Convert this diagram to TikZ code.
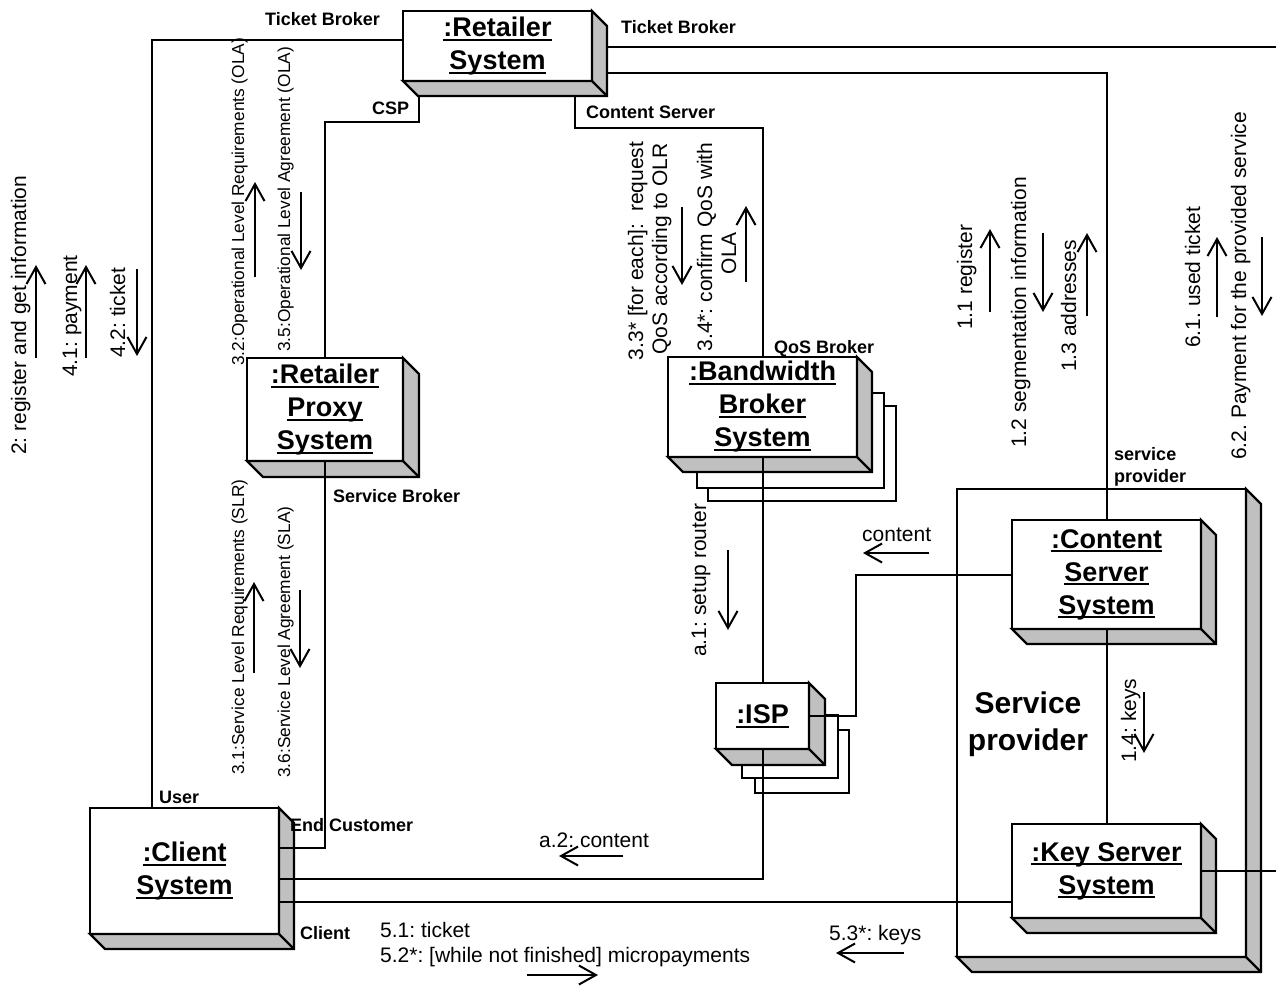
\documentclass[tikz,border=0pt]{standalone}
\usepackage{fontspec}
\setmainfont{Liberation Sans}
\usetikzlibrary{arrows.meta,calc}
\definecolor{shadegray}{RGB}{192,192,192}
\frenchspacing
\newcommand\ulin[1]{\leavevmode\setbox0\hbox{#1}\rlap{\rule[-4.3pt]{\wd0}{2pt}}\box0}
\newcommand\nodeshadow[2]{%
  \filldraw[shadowface] (#1.north east) -- ++(#2,#2) -- ($(#1.south east)+(#2,#2)$)
    -- ($(#1.south west)+(#2,#2)$) -- (#1.south west) -- (#1.south east) -- cycle;
  \draw[shadowface,fill=none] (#1.south east) -- ++(#2,#2);}
\begin{document}
\begin{tikzpicture}[x=1pt,y=-1pt,
  nbox/.style={draw, fill=white, line width=2.2pt, inner sep=0pt, outer sep=0pt, align=center,
    font=\fontsize{27}{33}\selectfont\bfseries},
  shadowface/.style={draw, fill=shadegray, line width=2.2pt, line join=miter},
  stackrect/.style={draw, fill=white, line width=2.2pt},
  conn/.style={line width=2pt},
  msg/.style={line width=2pt, -{Straight Barb[length=17pt,width=19pt]}},
  role/.style={font=\fontsize{18}{22.5}\selectfont\bfseries, inner sep=0pt, anchor=base west, align=left},
  lbl/.style={font=\fontsize{21}{24}\selectfont, inner sep=0pt, anchor=base west},
  vlbl/.style={lbl, rotate=90},
  vclbl/.style={font=\fontsize{21}{24}\selectfont, inner sep=0pt, anchor=base, rotate=90},
  svlbl/.style={font=\fontsize{17.3}{20}\selectfont, inner sep=0pt, anchor=base west, rotate=90},
]
\useasboundingbox (0,0) rectangle (1276,985);

% service provider container
\node[draw, fill=white, line width=2.2pt, inner sep=0pt, outer sep=0pt,
  minimum width=289pt, minimum height=468pt] (sp) at (1101.5,723) {};
\nodeshadow{sp}{15}
\node[font=\fontsize{30}{37}\selectfont\bfseries, align=center, inner sep=0pt, anchor=base]
  (sptitle) at (1028,750) {Service\\provider};

% stacked copies
\draw[stackrect] (708,406) rectangle (896,501);
\draw[stackrect] (697,393) rectangle (884,488);
\draw[stackrect] (755,730) rectangle (849,793);
\draw[stackrect] (742,715) rectangle (838,778);

% nodes
\node[nbox, minimum width=189pt, minimum height=70pt] (rs) at (497.5,46) {\ulin{:Retailer}\\\ulin{System}};
\nodeshadow{rs}{15}
\node[nbox, minimum width=156pt, minimum height=103pt] (rp) at (325,409.5) {\ulin{:Retailer}\\\ulin{Proxy}\\\ulin{System}};
\nodeshadow{rp}{16}
\node[nbox, minimum width=189pt, minimum height=100pt] (bb) at (762.5,407) {\ulin{:Bandwidth}\\\ulin{Broker}\\\ulin{System}};
\nodeshadow{bb}{15}
\node[nbox, minimum width=93pt, minimum height=66pt] (isp) at (762.5,716) {\ulin{:ISP}};
\nodeshadow{isp}{16}
\node[nbox, minimum width=189pt, minimum height=126pt] (cl) at (184.5,871) {\ulin{:Client}\\\ulin{System}};
\nodeshadow{cl}{15}
\node[nbox, minimum width=189pt, minimum height=109pt] (cs) at (1106.5,574.5) {\ulin{:Content}\\\ulin{Server}\\\ulin{System}};
\nodeshadow{cs}{15}
\node[nbox, minimum width=189pt, minimum height=94pt] (ks) at (1106.5,871) {\ulin{:Key Server}\\\ulin{System}};
\nodeshadow{ks}{15}

% free ends at the right border
\coordinate (rEdge1) at (1276,47);
\coordinate (rEdge2) at (1276,871);

% connectors
\draw[conn] ($(cl.north west)+(62,0)$) |- ($(rs.west)+(0,-6)$);
\draw[conn] ($(rs.east)+(15,1)$) -- (rEdge1);
\draw[conn] ($(rs.east)+(15,27)$) -| (cs.north);
\draw[conn] ($(rs.south)+(77.5,16)$) |- ($(bb.north)+(0,-229)$) -- (bb.north);
\draw[conn] ($(rs.south west)+(16,15)$) |- ($(rp.north)+(0,-236)$) -- (rp.north);
\draw[conn] (rp.south) |- ($(cl.east)+(0,-23)$);
\draw[conn] (bb.south) -- (isp.north);
\draw[conn] (isp.south) |- ($(cl.east)+(0,8)$);
\draw[conn] ($(cl.east)+(0,31)$) -- ($(ks.west)+(0,31)$);
\draw[conn] (isp.east) -- ++(47,0) |- (cs.west);
\draw[conn] (cs.south) -- (ks.north);
\draw[conn] (ks.east) -- (rEdge2);

% role labels
\node[role] (r1) at (265,25) {Ticket Broker};
\node[role] (r2) at (621,33) {Ticket Broker};
\node[role] (r3) at (372,114) {CSP};
\node[role] (r4) at (586,118) {Content Server};
\node[role] (r5) at (774,353) {QoS Broker};
\node[role] (r6) at (333,502) {Service Broker};
\node[role] (r7) at (1114,482.5) {service\\provider};
\node[role] (r8) at (159,803) {User};
\node[role] (r9) at (290,831) {End Customer};
\node[role] (r10) at (300,939) {Client};

% horizontal message labels
\node[lbl] (m51) at (380,937) {5.1: ticket};
\node[lbl] (m52) at (380,962) {5.2*: [while not finished] micropayments};
\node[lbl] (ma2) at (539,847) {a.2: content};
\node[lbl] (mct) at (862,541) {content};
\node[lbl] (m53) at (829,940) {5.3*: keys};

% rotated message labels
\node[vlbl] (m2) at (26,455) {2: register and get information};
\node[vlbl] (m41) at (77,377) {4.1: payment};
\node[vlbl] (m42) at (125,358) {4.2: ticket};
\node[svlbl] (m32) at (244,366) {3.2:Operational Level Requirements (OLA)};
\node[svlbl] (m35) at (290,352) {3.5:Operational Level Agreement (OLA)};
\node[svlbl] (m31) at (244,775) {3.1:Service Level Requirements (SLR)};
\node[svlbl] (m36) at (290,778) {3.6:Service Level Agreement (SLA)};
\node[vclbl] (m33a) at (643,251) {3.3* [for each]:\ \ request};
\node[vclbl] (m33b) at (667,249) {QoS according to OLR};
\node[vclbl] (m34a) at (712,247) {3.4*: confirm QoS with};
\node[vclbl] (m34b) at (736,253) {OLA};
\node[vlbl] (m11) at (972,330) {1.1 register};
\node[vlbl] (m12) at (1026,448) {1.2 segmentation information};
\node[vlbl] (m13) at (1076,372) {1.3 addresses};
\node[vlbl] (m61) at (1200,348) {6.1. used ticket};
\node[vlbl] (m62) at (1246,460) {6.2. Payment for the provided service};
\node[vlbl] (ma1) at (706,657) {a.1: setup router};
\node[vlbl] (m14) at (1136,763) {1.4: keys};

% message arrows
\draw[msg] (36,358) -- (36,265);
\draw[msg] (86,358) -- (86,265);
\draw[msg] (137,269) -- (137,356);
\draw[msg] (255,277) -- (255,182);
\draw[msg] (301,192) -- (301,270);
\draw[msg] (254,673) -- (254,582);
\draw[msg] (300,590) -- (300,668);
\draw[msg] (682,207) -- (682,285);
\draw[msg] (746,282) -- (746,206);
\draw[msg] (990,312) -- (990,229);
\draw[msg] (1043,233) -- (1043,312);
\draw[msg] (1087,316) -- (1087,233);
\draw[msg] (1217,317) -- (1217,237);
\draw[msg] (1262,237) -- (1262,316);
\draw[msg] (728,550) -- (728,630);
\draw[msg] (1144,692) -- (1144,753);
\draw[msg] (929,553) -- (863,553);
\draw[msg] (623,856) -- (559,856);
\draw[msg] (904,953) -- (836,953);
\draw[msg] (527,975) -- (598,975);
\end{tikzpicture}
\end{document}
